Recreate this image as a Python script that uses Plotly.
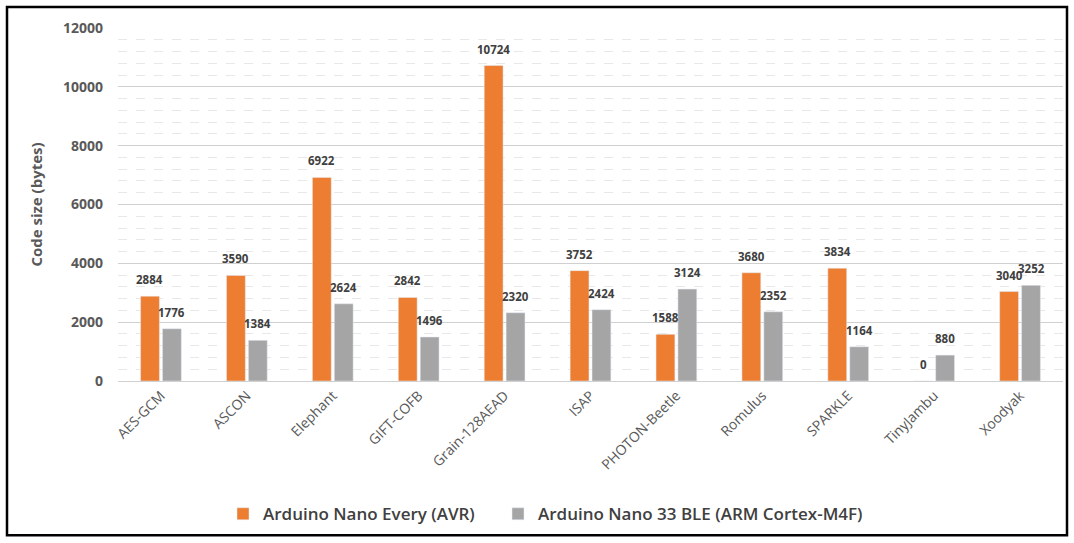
import plotly.graph_objects as go

# Code size of each cipher on the two boards
ciphers = ["AES-GCM", "ASCON", "Elephant", "GIFT-COFB", "Grain-128AEAD", "ISAP",
           "PHOTON-Beetle", "Romulus", "SPARKLE", "TinyJambu", "Xoodyak"]
avr_sizes = [2884, 3590, 6922, 2842, 10724, 3752, 1588, 3680, 3834, 0, 3040]
arm_sizes = [1776, 1384, 2624, 1496, 2320, 2424, 3124, 2352, 1164, 880, 3252]
series_names = ["Arduino Nano Every (AVR)", "Arduino Nano 33 BLE (ARM Cortex-M4F)"]
y_ticks = [0, 2000, 4000, 6000, 8000, 10000, 12000]

FONT = "Open Sans"
W, H = 1074, 543
ML, MR, MT, MB = 118, 11, 28, 160

fig = go.Figure()
series = [(series_names[0], avr_sizes, "#ED7D31", -11, "legend"),
          (series_names[1], arm_sizes, "#A5A5A5", 11, "legend2")]
for name, vals, color, _, leg in series:
    fig.add_trace(go.Bar(x=ciphers, y=vals, name=name, marker_color=color, legend=leg))

# Value labels above each bar
for name, vals, color, dx, _ in series:
    for cat, v in zip(ciphers, vals):
        fig.add_annotation(x=cat, y=v, text=str(v), showarrow=False,
                           xshift=dx, yshift=7, yanchor="bottom",
                           font=dict(family=FONT, size=11.5, color="#404040", weight="bold"))

pw = W - ML - MR
ph = H - MT - MB
def px_x(x):
    return (x - ML) / pw
def px_y(y):
    return (H - MB - y) / ph

legend_style = dict(orientation="h", xanchor="left", y=px_y(517), yanchor="middle",
                    font=dict(family=FONT, size=17, color="#404040", weight=600),
                    itemwidth=30, bgcolor="rgba(0,0,0,0)")

fig.update_layout(
    width=W, height=H,
    margin=dict(l=ML, r=MR, t=MT, b=MB),
    paper_bgcolor="white", plot_bgcolor="white",
    barmode="group", bargap=0.49, bargroupgap=0.14,
    font=dict(family=FONT, color="#595959"),
    showlegend=True,
    legend=dict(x=px_x(223), **legend_style),
    legend2=dict(x=px_x(498), **legend_style),
)
fig.update_xaxes(
    tickangle=-45, showline=True, linecolor="#d0d0d0", linewidth=1,
    tickfont=dict(family=FONT, size=14, color="#595959"),
    showgrid=False, ticks="",
)
fig.update_yaxes(
    range=[0, 12000], tickvals=y_ticks, ticktext=[str(v) for v in y_ticks],
    showgrid=True, gridcolor="#d0d0d0", gridwidth=1, zeroline=False,
    tickfont=dict(family=FONT, size=14, color="#595959", weight="bold"),
    ticklabelstandoff=14,
    minor=dict(dtick=400, showgrid=True, gridcolor="#e8e8e8", griddash="dash", gridwidth=1),
    title=dict(text="Code size (bytes)", standoff=16,
               font=dict(family=FONT, size=15, color="#595959", weight="bold")),
)

# Black frame around the whole chart
fig.add_shape(type="rect", xref="paper", yref="paper",
              x0=px_x(7), x1=px_x(1067), y0=px_y(538), y1=px_y(7),
              line=dict(color="black", width=2.5), fillcolor="rgba(0,0,0,0)", layer="above")

fig.write_html("out.html")
